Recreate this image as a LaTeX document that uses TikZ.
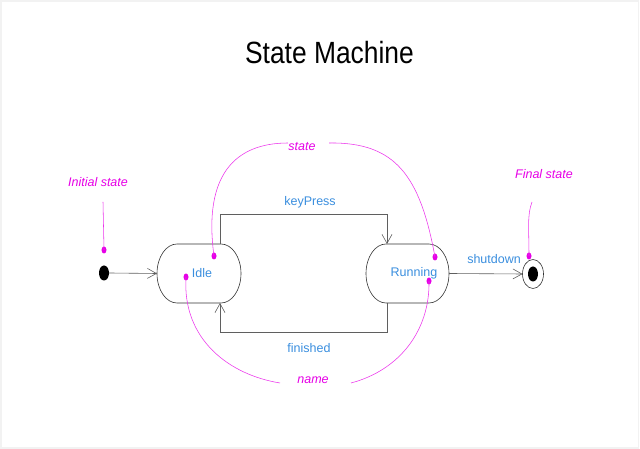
\documentclass[tikz,border=0pt]{standalone}
\usepackage{fontspec}
\setmainfont{Liberation Sans}
\usetikzlibrary{arrows.meta,shapes.geometric}
\definecolor{lblblue}{RGB}{58,142,222}
\definecolor{anno}{RGB}{230,0,230}
\definecolor{trgray}{RGB}{95,95,95}
\tikzset{
  every node/.style={font=\fontsize{12.5pt}{14pt}\selectfont},
  statebox/.style={rectangle, draw=none, outer sep=0pt, inner sep=0pt,
    minimum width=84pt, minimum height=59pt, text=lblblue},
  outline/.style={draw=black!80, line width=0.6pt},
  trans/.style={draw=trgray, line width=0.6pt, -{Straight Barb[length=9pt,width=10pt]}},
  trlabel/.style={text=lblblue, inner sep=0pt},
  annotext/.style={text=anno, font=\fontsize{12.5pt}{14pt}\selectfont\itshape, inner sep=0pt},
  annoline/.style={draw=anno!80, line width=0.55pt},
  annodot/.style={fill=anno, draw=none, ellipse, minimum width=5pt, minimum height=7pt, inner sep=0pt},
  blackdot/.style={fill=black, draw=none, ellipse, minimum width=10pt, minimum height=15pt, inner sep=0pt},
}
\begin{document}
\begin{tikzpicture}[x=1pt,y=1pt]
\useasboundingbox (0,0) rectangle (640,449);
\draw[black!5, line width=1.5pt] (1,1) rectangle (638.5,448);
% title
\node[inner sep=0pt] (title) at (329.5,396.5) {\scalebox{0.86}[1]{\fontsize{30.7pt}{34pt}\selectfont State Machine}};
% states
\node[blackdot] (init) at (104,176) {};
\node[statebox] (idle) at (199,175.5) {\hspace*{6pt}\raisebox{-1.5pt}{Idle}};
\node[statebox, minimum width=83pt] (running) at (407.5,175.5) {\hspace*{13pt}\raisebox{-1.5pt}{Running}};
\node[ellipse, draw=black!80, line width=0.6pt, minimum width=21pt, minimum height=29pt, inner sep=0pt, outer sep=0pt] (final) at (533,175) {};
\node[blackdot] (finalin) at (533,175) {};
% stadium outlines
\draw[outline] ([xshift=20pt]idle.north west) -- ([xshift=-20pt]idle.north east)
  arc[start angle=90, end angle=-90, x radius=20pt, y radius=29.5pt]
  -- ([xshift=20pt]idle.south west)
  arc[start angle=270, end angle=90, x radius=20pt, y radius=29.5pt] -- cycle;
\draw[outline] ([xshift=20pt]running.north west) -- ([xshift=-20pt]running.north east)
  arc[start angle=90, end angle=-90, x radius=20pt, y radius=29.5pt]
  -- ([xshift=20pt]running.south west)
  arc[start angle=270, end angle=90, x radius=20pt, y radius=29.5pt] -- cycle;
% transitions
\coordinate (kp1) at ([xshift=21pt]idle.north);
\coordinate (kp2) at ([xshift=-20.5pt]running.north);
\draw[trans] (kp1) -- ++(0,30) -| (kp2);
\node[trlabel] (lkey) at (310,247) {keyPress};
\coordinate (fi1) at ([xshift=-20.5pt]running.south);
\coordinate (fi2) at ([xshift=21pt]idle.south);
\draw[trans] (fi1) -- ++(0,-29) -| (fi2);
\node[trlabel] (lfin) at (309,101) {finished};
\draw[trans] (init.east) -- (idle.west);
\draw[trans] (running.east) -- (final.west);
\node[trlabel] (lshut) at (494,190) {shutdown};
% annotations
\node[annotext] (tinit) at (98,267) {Initial state};
\node[annotext] (tfinal) at (544,275) {Final state};
\node[annotext] (tstate) at (302,302) {state};
\node[annotext] (tname) at (313,69) {name};
\node[annodot] (dinit) at (104,199) {};
\node[annodot] (dfinal) at (529,193) {};
\node[annodot] (dsi) at (214,193) {};
\node[annodot] (dsr) at (435,192) {};
\node[annodot] (dni) at (186,172) {};
\node[annodot] (dnr) at (429,168) {};
\coordinate (ci) at (103,247);
\coordinate (cf) at (532,247);
\coordinate (csl) at (288,306);
\coordinate (csr) at (329,306);
\coordinate (cnl) at (280,66);
\coordinate (cnr) at (351,66);
\draw[annoline] (ci) -- (dinit.center);
\draw[annoline] (cf) .. controls (527,234) and (529,220) .. (dfinal.center);
\draw[annoline] (dsi.center) .. controls (203,274) and (235,306) .. (csl);
\draw[annoline] (csr) .. controls (395,307) and (420,274) .. (dsr.center);
\draw[annoline] (dni.center) .. controls (182,109) and (230,74) .. (cnl);
\draw[annoline] (cnr) .. controls (400,79) and (430,119) .. (dnr.center);
\end{tikzpicture}
\end{document}
